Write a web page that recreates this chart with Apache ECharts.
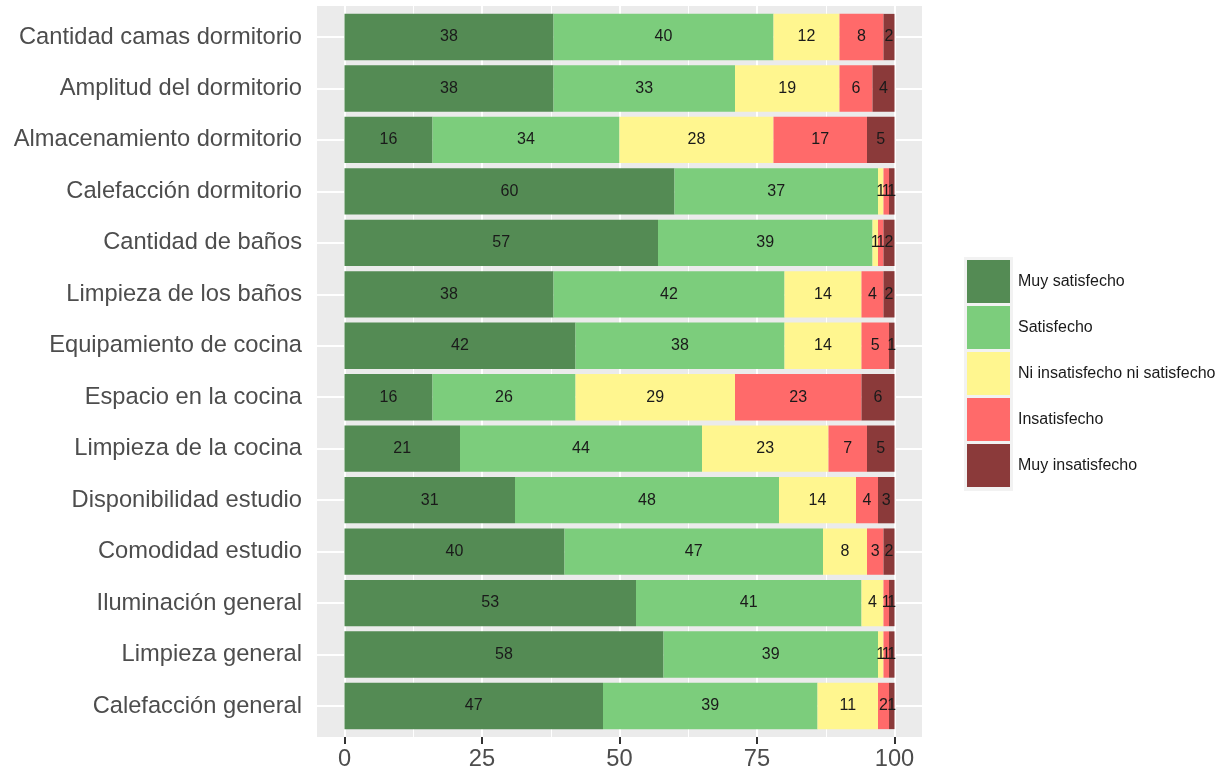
<!DOCTYPE html>
<html><head><meta charset="utf-8">
<script src="https://cdn.jsdelivr.net/npm/echarts@6/dist/echarts.min.js"></script>
<style>html,body{margin:0;padding:0;background:#fff}#c{width:1222px;height:771px}</style>
</head><body><div id="c"></div>
<script>
const categories = ["Cantidad camas dormitorio","Amplitud del dormitorio","Almacenamiento dormitorio","Calefacción dormitorio","Cantidad de baños","Limpieza de los baños","Equipamiento de cocina","Espacio en la cocina","Limpieza de la cocina","Disponibilidad estudio","Comodidad estudio","Iluminación general","Limpieza general","Calefacción general"];
const seriesNames = ["Muy satisfecho","Satisfecho","Ni insatisfecho ni satisfecho","Insatisfecho","Muy insatisfecho"];
const muySatisfecho = [38,38,16,60,57,38,42,16,21,31,40,53,58,47];
const satisfecho = [40,33,34,37,39,42,38,26,44,48,47,41,39,39];
const ni = [12,19,28,1,1,14,14,29,23,14,8,4,1,11];
const insatisfecho = [8,6,17,1,1,4,5,23,7,4,3,1,1,2];
const muyInsatisfecho = [2,4,5,1,2,2,1,6,5,3,2,1,1,1];
const xTicks = [0,25,50,75,100];
const xMinor = [12.5,37.5,62.5,87.5];
const colors = ["#548B54","#7CCD7C","#FFF68F","#FF6A6A","#8B3A3A"];
const values = [muySatisfecho, satisfecho, ni, insatisfecho, muyInsatisfecho];
const font = "Liberation Sans, Arial, sans-serif";

const chart = echarts.init(document.getElementById('c'), null, {renderer:'canvas'});
const barSeries = seriesNames.map((n,i)=>({
  name:n, type:'bar', stack:'t', barWidth:'90%', z:3, xAxisIndex:0, yAxisIndex:0,
  itemStyle:{color:colors[i]},
  data: values[i],
  label:{show:true, position:'inside', color:'#1a1a1a', fontSize:16, fontFamily:font},
  emphasis:{disabled:true}
}));
const vLines = {
  type:'line', data:[], silent:true, z:1, xAxisIndex:1, yAxisIndex:1,
  markLine:{
    silent:true, symbol:'none', z:1, animation:false,
    label:{show:false},
    data: [
      ...xMinor.map(v=>({xAxis:v, lineStyle:{color:'#fff',width:1,type:'solid'}})),
      ...xTicks.map(v=>({xAxis:v, lineStyle:{color:'#fff',width:2,type:'solid'}}))
    ]
  }
};
const hLines = {
  type:'line', data:[], silent:true, z:1, xAxisIndex:0, yAxisIndex:0,
  markLine:{
    silent:true, symbol:'none', z:1, animation:false,
    label:{show:false},
    data: categories.map(c=>({yAxis:c, lineStyle:{color:'#fff',width:2,type:'solid'}}))
  }
};
chart.setOption({
  animation:false,
  textStyle:{fontFamily:font},
  grid:[
    {left:317, right:300, top:11.3, bottom:39.3, show:false},
    {left:317, right:300, top:6, bottom:34, show:true, backgroundColor:'#EBEBEB', borderWidth:0}
  ],
  xAxis:[
    {type:'value', gridIndex:0, min:-5, max:105, show:false, splitLine:{show:false}},
    {type:'value', gridIndex:1, min:-5, max:105,
      axisLine:{show:false},
      axisTick:{show:true, length:7, lineStyle:{color:'#333', width:2}, customValues:xTicks},
      axisLabel:{customValues:xTicks, color:'#4D4D4D', fontSize:23.7, fontFamily:font, margin:10},
      splitLine:{show:false}}
  ],
  yAxis:[
    {type:'category', gridIndex:0, data:categories, inverse:true,
      axisLine:{show:false},
      axisTick:{show:true, length:8, alignWithLabel:true, lineStyle:{color:'#333', width:2}},
      axisLabel:{color:'#4D4D4D', fontSize:23.7, fontFamily:font, margin:15},
      splitLine:{show:false}},
    {type:'value', gridIndex:1, min:0, max:1, show:false, splitLine:{show:false}}
  ],
  legend:{data:seriesNames, orient:'vertical', left:967, top:260, padding:0, itemWidth:43, itemHeight:43, itemGap:3,
    icon:'rect', selectedMode:false,
    textStyle:{fontSize:16, color:'#1a1a1a', fontFamily:font, padding:[0,0,0,3]}},
  graphic:[{type:'rect', left:964, top:257, shape:{width:49, height:234}, style:{fill:'#F2F2F2'}, z:-1, silent:true}],
  series:[vLines, hLines, ...barSeries]
});
</script></body></html>
